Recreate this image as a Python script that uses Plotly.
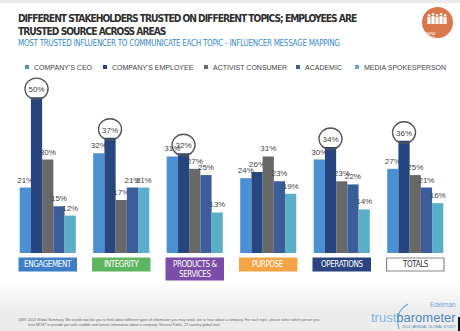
import plotly.graph_objects as go

# Topics (x categories) and the five influencer series (% most trusted)
topics = ["ENGAGEMENT", "INTEGRITY", "PRODUCTS &<br>SERVICES", "PURPOSE", "OPERATIONS", "TOTALS"]
series_names = ["COMPANY'S CEO", "COMPANY'S EMPLOYEE", "ACTIVIST CONSUMER", "ACADEMIC", "MEDIA SPOKESPERSON"]
ceo = [21, 32, 31, 24, 30, 27]
employee = [50, 37, 32, 26, 34, 36]
activist = [30, 17, 27, 31, 23, 25]
academic = [15, 21, 25, 23, 22, 21]
media = [12, 21, 13, 19, 14, 16]
values = [ceo, employee, activist, academic, media]

# Topics whose top value is circled (index of topic -> series index)
circled = {0: 1, 1: 1, 2: 1, 4: 1, 5: 1}

series_colors = ["#4A90D2", "#27457F", "#686868", "#3B5E9B", "#5BAEC7"]
topic_fill = ["#3D7EC6", "#5FB55F", "#7B4DA8", "#F2A545", "#2A4480", "#FFFFFF"]
topic_text = ["#FFFFFF"] * 5 + ["#333333"]

W, H = 460, 331
ML, MR, MT, MB = 11, 8, 66, 78
PW, PH = W - ML - MR, H - MT - MB
YMAX = 60
BARGAP = 0.237

NARROW = "DejaVu Sans Condensed, Liberation Sans Narrow, Liberation Sans"


def xp(px):
    return (px - ML) / PW


def yp(py):
    return (H - MB - py) / PH


def tight(s, ls):
    return f"<span style='letter-spacing:{ls}px'>{s}</span>"


fig = go.Figure()
for name, vals, col in zip(series_names, values, series_colors):
    fig.add_trace(go.Bar(
        x=list(range(len(topics))), y=vals, name=name,
        marker=dict(color=col, line=dict(width=0)),
        text=[f"{v}%" for v in vals], textposition="outside",
        textfont=dict(family="Liberation Sans, Arial", size=8, color="#444444"),
        constraintext="none", cliponaxis=False, showlegend=False,
    ))

n = len(series_names)
group_w = 1 - BARGAP
bar_w = group_w / n

shapes = []
annotations = []

# ellipses around the most trusted influencer's label
for ti, si in circled.items():
    cx = ti - group_w / 2 + (si + 0.5) * bar_w
    shapes.append(dict(
        type="circle", xref="x", yref="y",
        xsizemode="pixel", ysizemode="pixel",
        xanchor=cx, yanchor=values[si][ti],
        x0=-11.5, x1=11.5, y0=-2.5, y1=19,
        line=dict(color="#555555", width=1.4), fillcolor="rgba(0,0,0,0)",
    ))

# topic label boxes under each group
for i, t in enumerate(topics):
    c = (i + 0.5) / len(topics)
    half = 0.39 / len(topics)
    two_lines = "<br>" in t
    bottom = 280 if two_lines else 271
    shapes.append(dict(
        type="rect", xref="paper", yref="paper",
        x0=c - half, x1=c + half, y0=yp(bottom), y1=yp(258),
        fillcolor=topic_fill[i],
        line=dict(color="#888888" if topic_fill[i] == "#FFFFFF" else topic_fill[i], width=1.2),
    ))
    annotations.append(dict(
        xref="paper", yref="paper", x=c, y=yp((258 + bottom) / 2),
        text=tight(t, -0.4), showarrow=False, xanchor="center", yanchor="middle",
        font=dict(family=NARROW, size=8, color=topic_text[i]),
    ))

# legend row
legend_x = [25, 103, 204, 296, 355]
for name, col, lx in zip(series_names, series_colors, legend_x):
    shapes.append(dict(type="rect", xref="paper", yref="paper",
                       x0=xp(lx), x1=xp(lx + 4), y0=yp(69), y1=yp(65),
                       fillcolor=col, line=dict(width=0)))
    annotations.append(dict(xref="paper", yref="paper", x=xp(lx + 6.5), y=yp(67),
                            text=name, showarrow=False, xanchor="left", yanchor="middle",
                            font=dict(family="Liberation Sans, Arial", size=7, color="#444444")))

# title and subtitle
annotations.append(dict(
    xref="paper", yref="paper", x=xp(16), y=yp(25), xanchor="left", yanchor="middle",
    text=tight("<b>DIFFERENT STAKEHOLDERS TRUSTED ON DIFFERENT TOPICS; EMPLOYEES ARE<br>TRUSTED SOURCE ACROSS AREAS</b>", -1.0),
    showarrow=False, align="left",
    font=dict(family=NARROW, size=10.2, color="#2E2E2E"),
))
annotations.append(dict(
    xref="paper", yref="paper", x=xp(16), y=yp(43.5), xanchor="left", yanchor="middle",
    text=tight("MOST TRUSTED INFLUENCER TO COMMUNICATE EACH TOPIC - INFLUENCER MESSAGE MAPPING", -0.28),
    showarrow=False,
    font=dict(family=NARROW, size=8, color="#3A8AC8"),
))

# top rule
shapes.append(dict(type="rect", xref="paper", yref="paper",
                   x0=xp(0), x1=xp(W), y0=yp(3), y1=yp(0),
                   fillcolor="#EBEBEB", line=dict(width=0)))

# soft grey band near the bottom
for k in range(10):
    shapes.append(dict(type="rect", xref="paper", yref="paper", layer="below",
                       x0=xp(0), x1=xp(W), y0=yp(331), y1=yp(284 + k * 3),
                       fillcolor="rgba(220,222,226,0.06)", line=dict(width=0)))

# "general public" badge
shapes.append(dict(type="circle", xref="paper", yref="paper",
                   x0=xp(422), x1=xp(453), y0=yp(38), y1=yp(7),
                   fillcolor="#D9784C", line=dict(width=0)))
for k, hx in enumerate([429, 433, 437, 441, 445]):
    top = 14 if k % 2 == 0 else 13
    shapes.append(dict(type="circle", xref="paper", yref="paper",
                       x0=xp(hx - 1.2), x1=xp(hx + 1.2), y0=yp(top + 2.4), y1=yp(top),
                       fillcolor="#FFFFFF", line=dict(width=0)))
    shapes.append(dict(type="rect", xref="paper", yref="paper",
                       x0=xp(hx - 1.6), x1=xp(hx + 1.6), y0=yp(24), y1=yp(top + 3),
                       fillcolor="#FFFFFF", line=dict(width=0)))
annotations.append(dict(xref="paper", yref="paper", x=xp(437.5), y=yp(29.5),
                        text="GENERAL<br>PUBLIC", showarrow=False,
                        font=dict(family="Liberation Sans", size=3.2, color="#FFFFFF")))

# footnote
annotations.append(dict(
    xref="paper", yref="paper", x=xp(16), y=yp(322.5), xanchor="left", yanchor="middle",
    align="left", showarrow=False,
    text=("Q697 2014 Global Summary. We would now like you to think about different types of information you may need, see or hear about a company. For each topic, please select which person you<br>"
          "&nbsp;&nbsp;&nbsp;&nbsp;&nbsp;&nbsp;&nbsp;&nbsp;&nbsp;&nbsp;trust MOST to provide you with credible and honest information about a company. General Public, 27-country global total."),
    font=dict(family="Liberation Sans, Arial", size=3.6, color="#666666"),
))

# trustbarometer mark
shapes.append(dict(type="path", xref="paper", yref="paper",
                   path=f"M{xp(408)} {yp(304)} Q{xp(394)} {yp(312)} {xp(399)} {yp(329)}",
                   line=dict(color="#6FA8D8", width=1.2)))
annotations.append(dict(xref="paper", yref="paper", x=xp(458), y=yp(304), xanchor="right",
                        yanchor="middle", text="Edelman", showarrow=False,
                        font=dict(family="Liberation Sans", size=6.5, color="#6FA8D8")))
annotations.append(dict(xref="paper", yref="paper", x=xp(458), y=yp(317), xanchor="right",
                        yanchor="middle", showarrow=False,
                        text="<span style='color:#7FB8E0'>trust</span>barometer",
                        font=dict(family="Liberation Sans", size=13, color="#4F88C0")))
annotations.append(dict(xref="paper", yref="paper", x=xp(458), y=yp(326.5), xanchor="right",
                        yanchor="middle", showarrow=False,
                        text="2014 | ANNUAL GLOBAL STUDY",
                        font=dict(family="Liberation Sans", size=3.6, color="#4F88C0")))
shapes.append(dict(type="rect", xref="paper", yref="paper",
                   x0=xp(458), x1=xp(460), y0=yp(331), y1=yp(317),
                   fillcolor="#111111", line=dict(width=0)))

fig.update_layout(
    width=W, height=H,
    margin=dict(l=ML, r=MR, t=MT, b=MB, pad=0),
    barmode="group", bargap=BARGAP, bargroupgap=0,
    paper_bgcolor="#FFFFFF", plot_bgcolor="rgba(0,0,0,0)",
    xaxis=dict(range=[-0.5, len(topics) - 0.5], showticklabels=False, showgrid=False,
               zeroline=False, showline=False, ticks="", fixedrange=True),
    yaxis=dict(range=[0, YMAX], visible=False, fixedrange=True),
    shapes=shapes, annotations=annotations,
    showlegend=False,
)

fig.write_html("out.html", config={"displayModeBar": False})
